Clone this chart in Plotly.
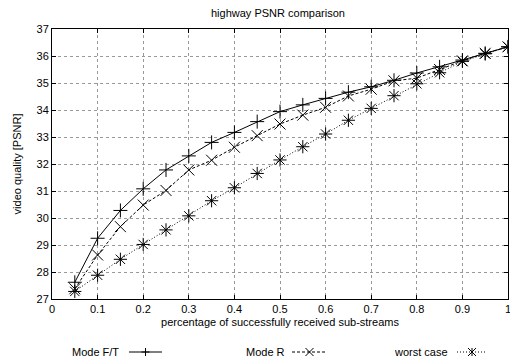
import plotly.graph_objects as go

x = [0.05, 0.1, 0.15, 0.2, 0.25, 0.3, 0.35, 0.4, 0.45, 0.5,
     0.55, 0.6, 0.65, 0.7, 0.75, 0.8, 0.85, 0.9, 0.95, 1.0]
mode_ft = [27.62, 29.25, 30.28, 31.08, 31.78, 32.3, 32.8, 33.17, 33.57, 33.94,
           34.19, 34.43, 34.66, 34.86, 35.1, 35.37, 35.6, 35.85, 36.1, 36.34]
mode_r = [27.38, 28.63, 29.68, 30.48, 31.02, 31.78, 32.14, 32.62, 33.05, 33.48,
          33.81, 34.1, 34.52, 34.77, 35.08, 35.18, 35.5, 35.82, 36.1, 36.34]
worst = [27.28, 27.88, 28.47, 29.02, 29.56, 30.08, 30.64, 31.12, 31.65, 32.15,
         32.64, 33.11, 33.62, 34.06, 34.53, 34.97, 35.38, 35.8, 36.08, 36.34]
series_names = ["Mode F/T", "Mode R", "worst case"]
x_ticks = [0, 0.1, 0.2, 0.3, 0.4, 0.5, 0.6, 0.7, 0.8, 0.9, 1]
x_ticktext = ["0", "0.1", "0.2", "0.3", "0.4", "0.5", "0.6", "0.7", "0.8", "0.9", "1"]

FONT = "Liberation Sans, Arial, sans-serif"
W, H = 510, 364
ML, MR, MT, MB = 52, 2, 29, 65
PW, PH = W - ML - MR, H - MT - MB

styles = [
    dict(dash="solid", symbol="cross-thin", size=10),
    dict(dash="3px,2px", symbol="x-thin", size=11),
    dict(dash="1px,2px", symbol="asterisk", size=11),
]

fig = go.Figure()
for name, ys, st in zip(series_names, [mode_ft, mode_r, worst], styles):
    fig.add_trace(go.Scatter(x=x, y=ys, name=name, mode="lines+markers",
                             showlegend=False,
                             line=dict(color="black", width=1, dash=st["dash"]),
                             marker=dict(symbol=st["symbol"], size=st["size"],
                                         line=dict(color="black", width=1))))

# custom gnuplot-style legend (text, then sample line with marker)
def px_x(p):
    return (p - ML) / PW

def px_y(p):
    return (H - MB - p) / PH

leg_y = 352
legend_layout = [  # text right edge, sample start, sample end (pixels)
    (121, 129, 162),
    (287, 292, 327),
    (450, 457, 487),
]
shapes = []
annotations = []
for name, st, (tr, s0, s1) in zip(series_names, styles, legend_layout):
    annotations.append(dict(text=name, xref="paper", yref="paper",
                            x=px_x(tr), y=px_y(leg_y), xanchor="right", yanchor="middle",
                            showarrow=False, font=dict(size=11, family=FONT, color="black")))
    shapes.append(dict(type="line", xref="paper", yref="paper",
                       x0=px_x(s0), x1=px_x(s1), y0=px_y(leg_y), y1=px_y(leg_y),
                       line=dict(color="black", width=1, dash=st["dash"])))
    cx = (s0 + s1) / 2
    r = 4
    segs = []
    if st["symbol"] in ("cross-thin", "asterisk"):
        segs.append((cx, leg_y - r, cx, leg_y + r))
    if st["symbol"] == "cross-thin":
        segs.append((cx - r, leg_y, cx + r, leg_y))
    if st["symbol"] in ("x-thin", "asterisk"):
        segs.append((cx - r, leg_y - r, cx + r, leg_y + r))
        segs.append((cx - r, leg_y + r, cx + r, leg_y - r))
    for a, b, c, d in segs:
        shapes.append(dict(type="line", xref="paper", yref="paper",
                           x0=px_x(a), y0=px_y(b), x1=px_x(c), y1=px_y(d),
                           line=dict(color="black", width=1)))

fig.update_layout(
    width=W, height=H,
    margin=dict(l=ML, r=MR, t=MT, b=MB, autoexpand=False),
    paper_bgcolor="white", plot_bgcolor="white",
    font=dict(family=FONT, size=11, color="black"),
    title=dict(text="highway PSNR comparison", x=0.545, xanchor="center",
               y=1 - 13 / H, yanchor="middle", font=dict(size=11)),
    showlegend=False,
    shapes=shapes,
    annotations=annotations,
)
fig.update_xaxes(range=[0, 1], tickmode="array", tickvals=x_ticks, ticktext=x_ticktext,
                 showgrid=True, gridcolor="#999999", griddash="dot", gridwidth=1,
                 showline=True, linecolor="black", linewidth=1, mirror="allticks",
                 ticks="inside", ticklen=4, tickcolor="black", ticklabeloverflow="allow",
                 zeroline=False, automargin=False,
                 title=dict(text="percentage of successfully received sub-streams",
                            font=dict(size=11), standoff=4))
fig.update_yaxes(range=[27, 37], dtick=1,
                 showgrid=True, gridcolor="#999999", griddash="dot", gridwidth=1,
                 showline=True, linecolor="black", linewidth=1, mirror="allticks",
                 ticks="inside", ticklen=4, tickcolor="black",
                 zeroline=False, automargin=False,
                 title=dict(text="video quality [PSNR]", font=dict(size=11), standoff=12))

fig.write_html("out.html")
